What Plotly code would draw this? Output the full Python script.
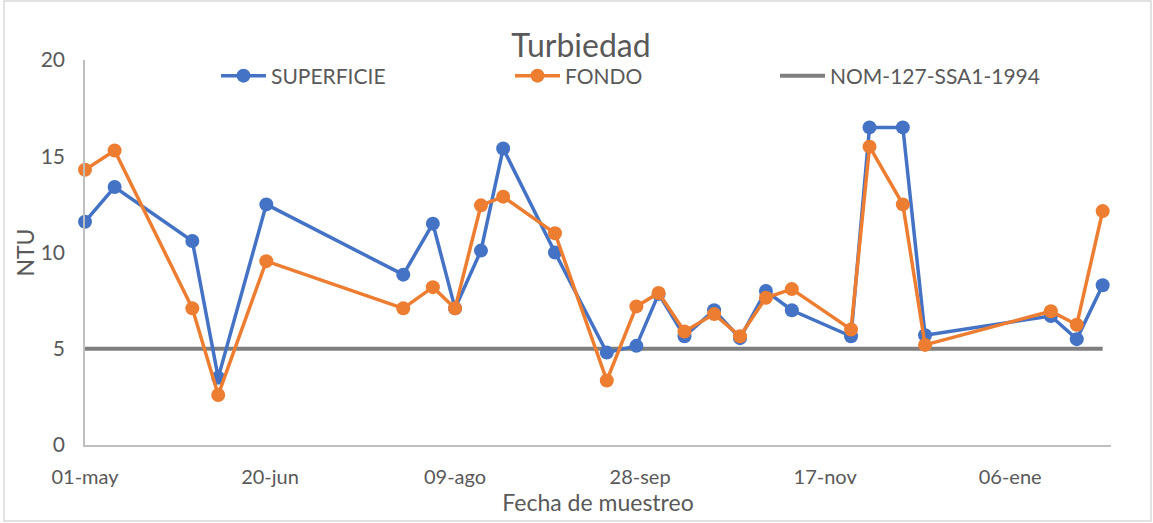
import plotly.graph_objects as go

fechas = ["2018-05-01", "2018-05-09", "2018-05-30", "2018-06-06", "2018-06-19",
          "2018-07-26", "2018-08-03", "2018-08-09", "2018-08-16", "2018-08-22",
          "2018-09-05", "2018-09-19", "2018-09-27", "2018-10-03", "2018-10-10",
          "2018-10-18", "2018-10-25", "2018-11-01", "2018-11-08", "2018-11-24",
          "2018-11-29", "2018-12-08", "2018-12-14", "2019-01-17", "2019-01-24",
          "2019-01-31"]
superficie = [11.6, 13.4, 10.6, 3.5, 12.5, 8.85, 11.5, 7.1, 10.1, 15.4,
              10.0, 4.8, 5.15, 7.85, 5.65, 7.0, 5.55, 8.0, 7.0, 5.65,
              16.5, 16.5, 5.7, 6.7, 5.5, 8.3]
fondo = [14.3, 15.3, 7.1, 2.6, 9.55, 7.1, 8.2, 7.1, 12.45, 12.9,
         11.0, 3.35, 7.2, 7.9, 5.9, 6.8, 5.65, 7.65, 8.1, 6.0,
         15.5, 12.5, 5.2, 6.95, 6.25, 12.15]
norma_fechas = ["2018-05-01", "2019-01-31"]
norma = [5, 5]
tick_vals = ["2018-05-01", "2018-06-20", "2018-08-09", "2018-09-28", "2018-11-17", "2019-01-06"]
tick_text = ["01-may", "20-jun", "09-ago", "28-sep", "17-nov", "06-ene"]

FONT = "Lato"
GRAY = "#595959"
L, R, T, B = 85, 42, 60, 78
PW, PH = 1153 - L - R, 523 - T - B


def px(xp):
    return (xp - L) / PW


def py(yp):
    return (523 - B - yp) / PH


fig = go.Figure()
fig.add_trace(go.Scatter(x=norma_fechas, y=norma, name="NOM-127-SSA1-1994", mode="lines",
                         line=dict(color="#7F7F7F", width=4), cliponaxis=False, legend="legend3"))
fig.add_trace(go.Scatter(x=fechas, y=superficie, name="SUPERFICIE", mode="lines+markers",
                         line=dict(color="#4472C4", width=3.5),
                         marker=dict(size=14, color="#4472C4"), cliponaxis=False, legend="legend"))
fig.add_trace(go.Scatter(x=fechas, y=fondo, name="FONDO", mode="lines+markers",
                         line=dict(color="#ED7D31", width=3.5),
                         marker=dict(size=14, color="#ED7D31"), cliponaxis=False, legend="legend2"))

leg_common = dict(orientation="h", xanchor="left", yanchor="middle", bgcolor="rgba(0,0,0,0)",
                  font=dict(size=21, color=GRAY, family=FONT), itemwidth=45)

fig.update_layout(
    width=1153, height=523,
    margin=dict(l=L, r=R, t=T, b=B, autoexpand=False),
    paper_bgcolor="white", plot_bgcolor="white",
    font=dict(family=FONT, color=GRAY, size=16),
    title=dict(text="Turbiedad", x=px(581), xref="paper", xanchor="center",
               y=1 - 46 / 523, yref="container", yanchor="middle",
               font=dict(family=FONT, size=32, color=GRAY)),
    legend=dict(x=px(216), y=py(76), **leg_common),
    legend2=dict(x=px(510), y=py(76), **leg_common),
    legend3=dict(x=px(775), y=py(76), **leg_common),
    showlegend=True,
    xaxis=dict(type="date", range=["2018-05-01", "2019-02-02 06:00"], automargin=False,
               tickvals=tick_vals, ticktext=tick_text, showgrid=False,
               showline=True, linecolor="#BFBFBF", linewidth=1.5, ticks="",
               tickfont=dict(size=20, color=GRAY), ticklabelstandoff=13,
               title=dict(text="Fecha de muestreo", font=dict(size=23, color=GRAY), standoff=4)),
    yaxis=dict(range=[0, 20], tickvals=[0, 5, 10, 15, 20], showgrid=False, automargin=False,
               showline=True, linecolor="#BFBFBF", linewidth=1.5, ticks="",
               tickfont=dict(size=21, color=GRAY), zeroline=False, ticklabelstandoff=14,
               title=dict(text="NTU", font=dict(size=23, color=GRAY), standoff=0)),
    shapes=[dict(type="rect", xref="paper", yref="paper",
                 x0=px(4), x1=px(1151), y0=py(521), y1=py(1),
                 line=dict(color="#D9D9D9", width=1.5), fillcolor="rgba(0,0,0,0)", layer="below")],
)

fig.write_html("out.html", config={"displayModeBar": False},
               post_script="document.body.style.margin='0';")
